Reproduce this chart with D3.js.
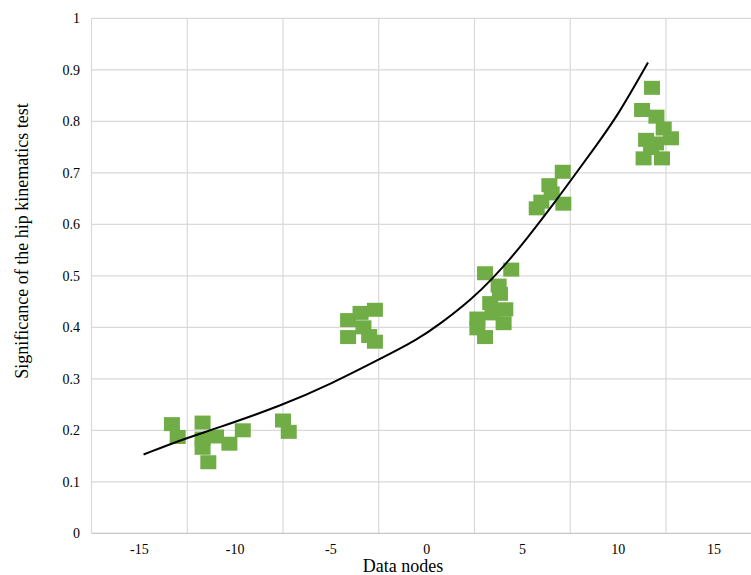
<!DOCTYPE html>
<html>
<head>
<meta charset="utf-8">
<script src="https://cdn.jsdelivr.net/npm/d3@7"></script>
<style>
  body { margin: 0; background: #fff; }
  svg { display: block; }
  text { font-family: "Liberation Serif", "Times New Roman", serif; fill: #000; }
</style>
</head>
<body>
<div id="chart"></div>
<script>
// scatter points
var nodeX = [-13.3, -13.0, -11.7, -11.7, -11.7, -11.4, -11.0, -10.3, -9.6, -7.5, -7.2,
             -4.1, -4.1, -3.45, -2.7, -3.3, -3.0, -2.7,
             3.05, 4.42, 3.76, 3.83, 3.32, 4.11, 2.65, 2.65, 4.02, 3.05, 3.44,
             7.11, 6.41, 6.53, 7.14, 5.75, 5.99,
             11.77, 11.25, 12.0, 12.38, 12.76, 11.46, 11.98, 11.33, 12.29, 11.72];
var significance = [0.212, 0.187, 0.215, 0.184, 0.166, 0.138, 0.188, 0.174, 0.200, 0.219, 0.197,
                    0.414, 0.381, 0.428, 0.434, 0.400, 0.383, 0.372,
                    0.505, 0.512, 0.481, 0.465, 0.447, 0.435, 0.417, 0.398, 0.408, 0.381, 0.427,
                    0.702, 0.676, 0.660, 0.640, 0.631, 0.644,
                    0.865, 0.822, 0.809, 0.786, 0.767, 0.764, 0.757, 0.728, 0.728, 0.748];

// trendline
var trendX = [-14.78, -12.7, -11.11, -7.5, -4.94, -2.52, -0.53, 0.66, 2.4, 3.45, 4.32, 5.19, 6.76, 7.62, 8.76, 10.0, 11.56];
var trendY = [0.153, 0.183, 0.202, 0.249, 0.291, 0.337, 0.375, 0.405, 0.456, 0.495, 0.531, 0.570, 0.646, 0.690, 0.748, 0.812, 0.914];

var xTicks = [-15, -10, -5, 0, 5, 10, 15];
var xGrid = [-17.5, -12.5, -7.5, -2.5, 2.5, 7.5, 12.5];
var yTicks = [0, 0.1, 0.2, 0.3, 0.4, 0.5, 0.6, 0.7, 0.8, 0.9, 1];

var width = 751, height = 575;
var plotLeft = 91.5, plotTop = 18.3, plotBottom = 533.3;

var svg = d3.select("#chart").append("svg")
  .attr("width", width)
  .attr("height", height);

var x = d3.scaleLinear().domain([-17.5, 17.5]).range([plotLeft, plotLeft + 35 * 19.15]);
var y = d3.scaleLinear().domain([0, 1]).range([plotBottom, plotTop]);

// gridlines
svg.append("g").selectAll("line").data(yTicks.slice(1)).enter().append("line")
  .attr("x1", plotLeft).attr("x2", width)
  .attr("y1", d => y(d)).attr("y2", d => y(d))
  .attr("stroke", "#d9d9d9").attr("stroke-width", 1.2);

svg.append("g").selectAll("line").data(xGrid).enter().append("line")
  .attr("x1", d => x(d)).attr("x2", d => x(d))
  .attr("y1", plotTop).attr("y2", plotBottom)
  .attr("stroke", "#d9d9d9").attr("stroke-width", 1.2);

// bottom axis line
svg.append("line")
  .attr("x1", plotLeft).attr("x2", width)
  .attr("y1", plotBottom).attr("y2", plotBottom)
  .attr("stroke", "#c8c8c8").attr("stroke-width", 1.3);

// tick labels
svg.append("g").selectAll("text").data(yTicks).enter().append("text")
  .attr("x", 80)
  .attr("y", d => y(d))
  .attr("dy", "0.35em")
  .attr("text-anchor", "end")
  .style("font-size", "14px")
  .text(d => d3.format("")(d));

svg.append("g").selectAll("text").data(xTicks).enter().append("text")
  .attr("x", d => x(d))
  .attr("y", 554)
  .attr("text-anchor", "middle")
  .style("font-size", "14px")
  .text(d => d);

// markers
var pts = nodeX.map((v, i) => [v, significance[i]]);
svg.append("g").selectAll("rect").data(pts).enter().append("rect")
  .attr("x", d => x(d[0]) - 8)
  .attr("y", d => y(d[1]) - 7)
  .attr("width", 16)
  .attr("height", 14)
  .attr("fill", "#70ad47");

// trendline
var line = d3.line()
  .x(d => x(d[0]))
  .y(d => y(d[1]))
  .curve(d3.curveBasis);

svg.append("path")
  .attr("d", line(trendX.map((v, i) => [v, trendY[i]])))
  .attr("fill", "none")
  .attr("stroke", "#000")
  .attr("stroke-width", 2);

// axis titles
svg.append("text")
  .attr("x", 403)
  .attr("y", 572)
  .attr("text-anchor", "middle")
  .style("font-size", "18px")
  .text("Data nodes");

svg.append("text")
  .attr("transform", "translate(28,241) rotate(-90)")
  .attr("text-anchor", "middle")
  .style("font-size", "18px")
  .text("Significance of the hip kinematics test");
</script>
</body>
</html>
